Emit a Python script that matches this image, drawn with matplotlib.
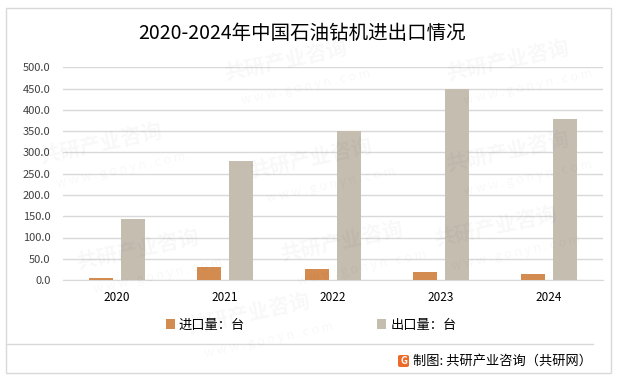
import matplotlib
matplotlib.use("Agg")
import matplotlib.pyplot as plt
import numpy as np
from matplotlib.patches import Rectangle, FancyBboxPatch
from matplotlib.lines import Line2D

plt.rcParams['font.family'] = ['Noto Sans CJK SC', 'DejaVu Sans']

# 数据
years = ["2020", "2021", "2022", "2023", "2024"]
import_units = [5, 31, 26, 20, 14]
export_units = [143, 280, 350, 450, 378]
y_ticks = [0, 50, 100, 150, 200, 250, 300, 350, 400, 450, 500]

title = "2020-2024年中国石油钻机进出口情况"
import_label = "进口量：台"
export_label = "出口量：台"
source = "制图: 共研产业咨询（共研网）"

c_import = "#D38B4F"
c_export = "#C6BDB1"
c_grid = "#D9D9D9"
c_text = "#404040"

W, H = 617, 378
fig = plt.figure(figsize=(W / 100, H / 100), dpi=100)

# 外框
fig.patches.append(Rectangle((6 / W, 1 - 373 / H), 605 / W, 365 / H,
                             transform=fig.transFigure, fill=False,
                             edgecolor="#D9D9D9", linewidth=1.0))

# 水印（很淡）
for wx, wy in [(0.36, 0.84), (0.72, 0.84), (0.06, 0.62), (0.4, 0.58),
               (0.72, 0.6), (0.12, 0.34), (0.45, 0.36), (0.7, 0.4), (0.3, 0.17)]:
    fig.text(wx, wy, "共研产业咨询", fontsize=15, fontweight="bold", color="#000000",
             alpha=0.03, rotation=12, ha="left", va="center")
    fig.text(wx + 0.03, wy - 0.07, "w w w . g o n y n . c o m", fontsize=9, color="#000000",
             alpha=0.03, rotation=12, ha="left", va="center")

ax = fig.add_axes([63 / W, 1 - 280 / H, 540 / W, 212.5 / H])
x = np.arange(len(years))
bw = 0.222
off = 0.144
b1 = ax.bar(x - off, import_units, width=bw, color=c_import, zorder=3)
b2 = ax.bar(x + off, export_units, width=bw, color=c_export, zorder=3)

ax.set_xlim(-0.5, len(years) - 0.5)
ax.set_ylim(0, 500)
ax.set_yticks(y_ticks)
ax.set_yticklabels([f"{v:.1f}" for v in y_ticks], fontsize=8, color=c_text)
ax.set_xticks(x)
ax.set_xticklabels(years, fontsize=8.5, color="#000000")
ax.tick_params(axis="y", length=0, pad=9)
ax.tick_params(axis="x", length=0, pad=8)
ax.grid(axis="y", color=c_grid, linewidth=1.0, zorder=0)
ax.set_axisbelow(True)
for s in ["top", "right", "left"]:
    ax.spines[s].set_visible(False)
ax.spines["bottom"].set_color(c_grid)
ax.patch.set_alpha(0)

fig.text(0.49, 1 - 33 / H, title, fontsize=14, ha="center", va="center", color="#000000")

leg = fig.legend([b1, b2], [import_label, export_label], ncol=2,
                 loc="center", bbox_to_anchor=(311 / W, 1 - 325 / H),
                 frameon=False, fontsize=9.5, handlelength=0.7, handleheight=0.7,
                 handletextpad=0.3, columnspacing=10.0)
for t in leg.get_texts():
    t.set_color("#000000")

# 分隔线
fig.lines.append(Line2D([6 / W, 593 / W], [1 - 344 / H, 1 - 344 / H],
                        transform=fig.transFigure, color="#D9D9D9", linewidth=1.0))

# 标志和来源
fig.patches.append(FancyBboxPatch((398 / W, 1 - 367 / H), 11 / W, 12 / H,
                                  boxstyle="round,pad=0,rounding_size=0.004",
                                  transform=fig.transFigure, facecolor="#EE6A2A",
                                  edgecolor="none"))
fig.text(403.5 / W, 1 - 361 / H, "G", fontsize=7, fontweight="bold", color="white",
         ha="center", va="center")
fig.text(413 / W, 1 - 361 / H, source, fontsize=9.5, ha="left", va="center",
         color="#000000")

fig.savefig("out.png", dpi=100)
